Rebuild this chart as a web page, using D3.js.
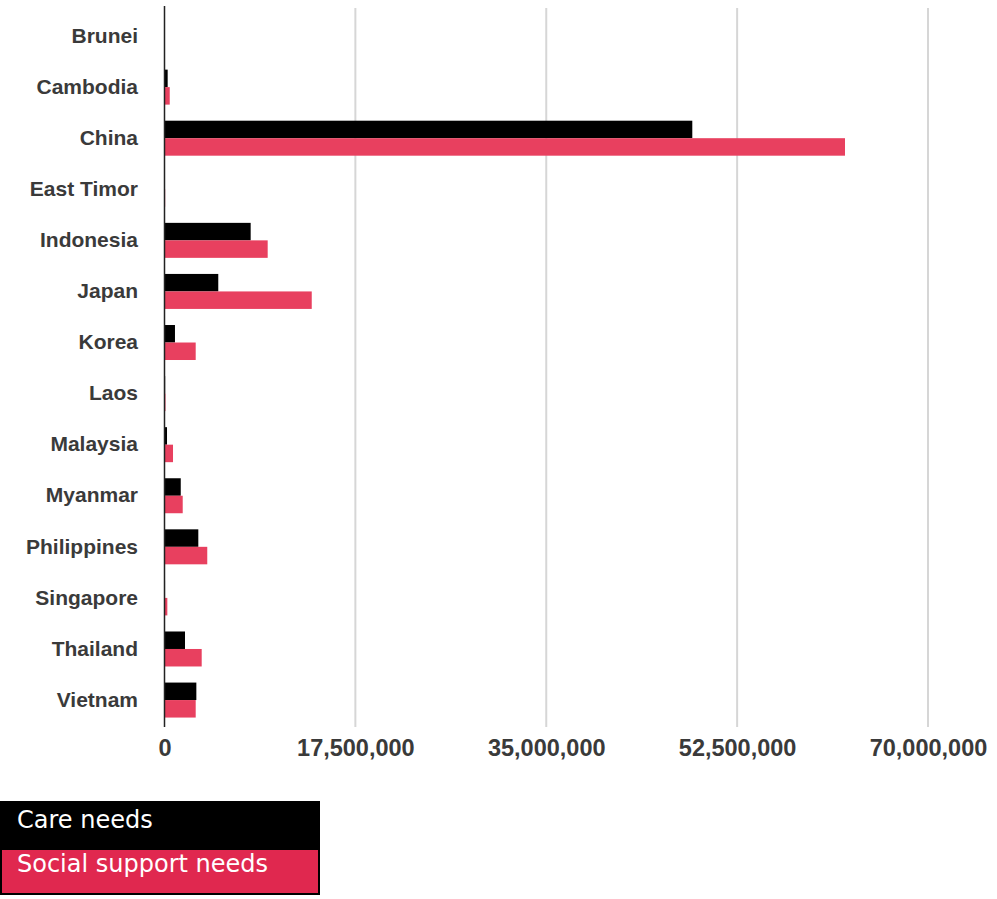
<!DOCTYPE html>
<html>
<head>
<meta charset="utf-8">
<script src="https://cdn.jsdelivr.net/npm/d3@7"></script>
<style>
  html, body { margin: 0; padding: 0; background: #fff; }
  svg { display: block; }
</style>
</head>
<body>
<svg id="chart" width="997" height="899"></svg>
<script>
// Countries, top to bottom
const countries = ["Brunei", "Cambodia", "China", "East Timor", "Indonesia", "Japan", "Korea",
  "Laos", "Malaysia", "Myanmar", "Philippines", "Singapore", "Thailand", "Vietnam"];

// People with care needs / social support needs
const careNeeds = [20000, 290000, 48390000, 40000, 7900000, 4930000, 960000,
  60000, 230000, 1490000, 3100000, 50000, 1880000, 2920000];
const socialNeeds = [30000, 480000, 62390000, 60000, 9460000, 13500000, 2860000,
  90000, 780000, 1670000, 3920000, 260000, 3410000, 2860000];

const seriesNames = ["Care needs", "Social support needs"];
const tickValues = [0, 17500000, 35000000, 52500000, 70000000];

const svg = d3.select("#chart");

const x = d3.scaleLinear().domain([0, 70000000]).range([164.5, 928]);
const y = d3.scaleBand().domain(countries).range([10.5, 725.6])
  .paddingInner(0.315).paddingOuter(0.1575);
const sub = d3.scaleBand().domain(seriesNames).range([0, y.bandwidth()]);
const barColors = { "Care needs": "#000000", "Social support needs": "#e8405f" };
const legendColors = { "Care needs": "#000000", "Social support needs": "#e0284f" };

// vertical gridlines
svg.append("g").selectAll("line")
  .data(tickValues.slice(1))
  .join("line")
  .attr("x1", d => x(d)).attr("x2", d => x(d))
  .attr("y1", 8).attr("y2", 727)
  .attr("stroke", "#d6d6d6").attr("stroke-width", 2);

// bars
const rows = countries.map((c, i) => ({ c, vals: [careNeeds[i], socialNeeds[i]] }));
svg.append("g").selectAll("g")
  .data(rows)
  .join("g")
  .attr("transform", d => `translate(0,${y(d.c)})`)
  .selectAll("rect")
  .data(d => d.vals.map((v, k) => ({ s: seriesNames[k], v })))
  .join("rect")
  .attr("x", x(0))
  .attr("y", d => sub(d.s))
  .attr("width", d => x(d.v) - x(0))
  .attr("height", sub.bandwidth())
  .attr("fill", d => barColors[d.s]);

// zero line
svg.append("line")
  .attr("x1", x(0)).attr("x2", x(0))
  .attr("y1", 6).attr("y2", 727)
  .attr("stroke", "#222").attr("stroke-width", 1.5);

// category labels
const yAxis = svg.append("g")
  .attr("transform", "translate(138,0)")
  .call(d3.axisLeft(y).tickSize(0).tickPadding(0));
yAxis.select(".domain").remove();
yAxis.selectAll("text")
  .attr("font-family", "Liberation Sans, Arial, sans-serif")
  .attr("font-weight", "bold")
  .attr("font-size", 21)
  .attr("fill", "#3a3a3a");

// value axis labels
const xAxis = svg.append("g")
  .attr("transform", "translate(0,731)")
  .call(d3.axisBottom(x).tickValues(tickValues).tickFormat(d3.format(",")).tickSize(0).tickPadding(8));
xAxis.select(".domain").remove();
xAxis.selectAll("text")
  .attr("font-family", "Liberation Sans, Arial, sans-serif")
  .attr("font-weight", "bold")
  .attr("font-size", 23.5)
  .attr("fill", "#3a3a3a");

// legend: black frame holding two stacked swatches
const legend = svg.append("g");
legend.append("rect").attr("x", 0).attr("y", 801).attr("width", 320).attr("height", 94)
  .attr("fill", "#000");
legend.selectAll("rect.swatch")
  .data(seriesNames)
  .join("rect")
  .attr("class", "swatch")
  .attr("x", 2)
  .attr("y", (d, i) => i === 0 ? 801 : 850)
  .attr("width", 316)
  .attr("height", (d, i) => i === 0 ? 49 : 43)
  .attr("fill", d => legendColors[d]);
legend.selectAll("text")
  .data(seriesNames)
  .join("text")
  .attr("x", 17)
  .attr("y", (d, i) => 828 + i * 44)
  .attr("font-family", "DejaVu Sans, Verdana, sans-serif")
  .attr("font-size", 24)
  .attr("fill", "#fff")
  .text(d => d);
</script>
</body>
</html>
